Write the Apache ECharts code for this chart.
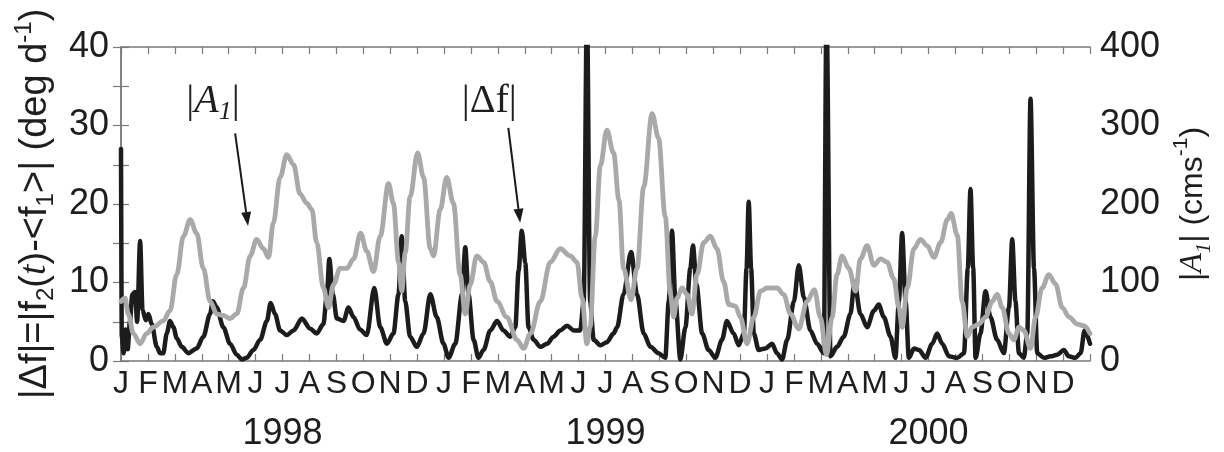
<!DOCTYPE html>
<html>
<head>
<meta charset="utf-8">
<script src="https://cdn.jsdelivr.net/npm/echarts@6/dist/echarts.min.js"></script>
<style>
html,body{margin:0;padding:0;background:#fff;}
#chart{width:1224px;height:452px;}
</style>
</head>
<body>
<div id="chart"></div>
<script>
// ---- Data (x = months since 1 Jan 1998) ----
const monthLetters = ['J','F','M','A','M','J','J','A','S','O','N','D'];
const yearLabels = ['1998','1999','2000'];

// |Δf| (deg d^-1), left axis
const dfMonth = [0,0.03,0.1,0.17,0.25,0.33,0.42,0.52,0.6,0.71,0.8,0.92,1.02,1.14,1.33,1.45,1.57,1.7,1.82,1.95,2.07,2.26,2.5,2.81,3.06,3.31,3.41,3.56,3.8,4.05,4.3,4.49,4.67,4.92,5.17,5.42,5.56,5.72,5.91,6.16,6.41,6.72,7.03,7.27,7.52,7.65,7.74,7.87,8.02,8.27,8.45,8.64,8.88,9.13,9.41,9.63,9.88,10.12,10.31,10.43,10.56,10.74,10.99,11.24,11.49,11.73,11.98,12.17,12.42,12.67,12.79,12.91,13.1,13.28,13.47,13.72,13.97,14.21,14.46,14.65,14.77,14.89,15.02,15.14,15.33,15.58,15.83,16.07,16.32,16.57,16.82,17.06,17.19,17.31,17.43,17.56,17.81,18.05,18.3,18.43,18.67,18.95,19.17,19.42,19.67,19.97,20.22,20.35,20.47,20.6,20.78,20.97,21.15,21.25,21.38,21.59,21.83,22.08,22.33,22.51,22.76,22.95,23.14,23.24,23.32,23.41,23.51,23.69,23.94,24.19,24.37,24.56,24.75,25.0,25.18,25.37,25.61,25.86,26.11,26.21,26.36,26.6,26.85,27.1,27.25,27.47,27.72,27.97,28.15,28.34,28.59,28.77,28.9,29.02,29.15,29.27,29.46,29.65,29.89,30.14,30.32,30.51,30.76,31.07,31.32,31.46,31.56,31.66,31.75,31.93,32.12,32.3,32.55,32.8,32.99,33.11,33.23,33.36,33.54,33.67,33.79,33.92,34.04,34.29,34.54,34.78,35.03,35.21,35.46,35.65,35.8,36.0];
const dfValue = [27,3,1,4,1.5,5,8.5,8.8,5,15.3,6.5,5.2,6.0,4.7,1.8,1.0,1.0,3.5,5.1,4.3,2.9,1.8,1.0,1.6,3.1,6.0,7.6,6.8,4.3,2.2,0.8,0.2,0.4,1.4,2.7,5.1,7.4,6.0,3.9,3.3,3.9,5.4,4.1,3.5,4.7,8.5,13.0,8.5,5.4,5.1,6.8,5.6,4.0,3.3,9.3,4.3,2.2,3.5,8.5,15.9,7.6,3.1,1.8,3.5,8.5,5.6,2.2,0.4,2.2,8.5,14.5,8.5,2.7,0.4,1.4,3.9,5.1,3.9,3.1,4.3,11.5,16.6,12.5,4.3,2.7,1.8,2.2,3.1,3.9,4.5,3.9,3.9,7.6,45,7.6,2.7,2.0,2.4,3.5,4.3,8.5,13.9,8.5,3.5,1.8,1.0,0.4,7.6,16.6,7.6,0.2,4.3,11.8,14.7,9.7,3.5,1.4,0.4,2.7,5.1,3.5,2.0,3.5,11.8,20.3,11.8,3.5,1.4,1.6,2.2,1.0,0.2,2.7,7.6,12.2,8.1,3.9,2.2,1.0,45,0.6,1.8,3.1,6.0,10.1,6.0,4.3,6.4,7.2,5.6,3.1,0.4,7.6,16.3,7.6,0.4,1.6,1.4,0.4,2.2,3.5,2.2,0.6,0.4,1.0,11.8,21.9,11.8,0.4,3.5,8.9,5.6,2.7,1.0,6.8,15.5,7.6,1.0,0.4,3.5,33.4,11.8,1.0,0.4,0.6,0.8,1.4,0.6,0.4,1.0,3.9,2.2];

// |A1| (cm s^-1), right axis
const a1Month = [0,0.15,0.27,0.46,0.71,0.95,1.2,1.57,1.82,2.07,2.32,2.57,2.81,3.06,3.31,3.56,3.8,4.05,4.3,4.55,4.8,5.04,5.29,5.48,5.66,5.91,6.16,6.41,6.65,6.9,7.09,7.27,7.52,7.71,7.89,8.14,8.39,8.64,8.9,9.13,9.38,9.63,9.94,10.12,10.31,10.43,10.56,10.74,11.02,11.24,11.49,11.61,11.86,12.1,12.35,12.6,12.79,12.97,13.22,13.47,13.72,13.97,14.33,14.71,14.96,15.21,15.58,15.95,16.32,16.69,16.94,17.13,17.31,17.43,17.62,17.81,18.05,18.3,18.5,18.67,18.95,19.17,19.42,19.73,19.97,20.22,20.41,20.53,20.66,20.84,21.03,21.21,21.4,21.65,21.9,22.14,22.39,22.58,22.83,23.01,23.26,23.51,23.76,24.0,24.37,24.62,24.87,25.18,25.49,25.76,25.98,26.21,26.42,26.6,26.79,27.04,27.29,27.47,27.72,27.97,28.22,28.46,28.71,28.9,29.02,29.21,29.46,29.7,29.95,30.2,30.45,30.7,30.84,31.07,31.25,31.44,31.62,31.87,32.12,32.37,32.55,32.74,32.99,33.17,33.36,33.54,33.79,33.98,34.22,34.47,34.72,34.97,35.22,35.53,35.77,36.0];
const a1Value = [76,80,60,35,22,35,43,51,64,110,159,180,163,118,76,60,58,54,60,93,134,155,143,132,176,234,263,250,213,201,193,151,93,68,97,118,118,130,163,140,114,159,226,201,126,89,138,209,265,234,143,134,193,234,201,110,60,97,134,126,101,76,56,27,16,35,76,126,143,134,126,80,22,43,159,249,294,265,205,118,78,118,222,315,284,184,85,56,80,93,85,60,110,151,159,143,101,72,70,56,22,56,89,93,93,85,60,41,76,91,56,8,56,110,134,118,89,130,147,122,130,126,105,68,43,93,143,155,147,132,151,180,188,160,76,31,43,47,56,76,85,68,35,27,43,39,16,56,93,110,98,68,56,47,45,35];

const FONT = 'Liberation Sans, Arial, Helvetica, sans-serif';
const SERIF = 'Liberation Serif, DejaVu Serif, serif';
const AXIS_COLOR = '#7a7a7a';
const TXT = '#1e1e1e';

const chart = echarts.init(document.getElementById('chart'), null, {renderer: 'canvas'});

const xCommon = {type: 'value', min: 0, max: 36, interval: 1};

const option = {
  animation: false,
  backgroundColor: '#fff',
  grid: {left: 121, right: 134, top: 47, bottom: 82, containLabel: false},
  xAxis: [
    Object.assign({}, xCommon, {
      position: 'bottom',
      axisLine: {show: true, lineStyle: {color: AXIS_COLOR, width: 1.5}},
      axisTick: {show: true, inside: true, length: 7, lineStyle: {color: AXIS_COLOR, width: 1.2}},
      splitLine: {show: false},
      axisLabel: {
        show: true, margin: 7, fontSize: 32, color: TXT, fontFamily: FONT,
        formatter: v => (v >= 0 && v < 36 && Number.isInteger(v)) ? monthLetters[v % 12] : ''
      }
    }),
    Object.assign({}, xCommon, {
      position: 'top',
      axisLine: {show: true, onZero: false, lineStyle: {color: AXIS_COLOR, width: 1.5}},
      axisTick: {show: true, inside: true, length: 7, lineStyle: {color: AXIS_COLOR, width: 1.2}},
      splitLine: {show: false},
      axisLabel: {show: false}
    }),
    {
      type: 'value', min: 0, max: 36, interval: 6, position: 'bottom',
      axisLine: {show: false}, axisTick: {show: false}, splitLine: {show: false},
      axisLabel: {
        show: true, margin: 55, fontSize: 36, color: TXT, fontFamily: FONT,
        formatter: v => { const k = (v - 6) / 12; return (Number.isInteger(k) && k >= 0 && k < 3) ? yearLabels[k] : ''; }
      }
    }
  ],
  yAxis: [
    {
      type: 'value', min: 0, max: 40, interval: 5, position: 'left',
      axisLine: {show: true, lineStyle: {color: AXIS_COLOR, width: 1.5}},
      axisTick: {show: true, inside: true, length: 8, lineStyle: {color: AXIS_COLOR, width: 1.2}},
      splitLine: {show: false},
      axisLabel: {margin: 12, fontSize: 36, color: TXT, fontFamily: FONT,
        formatter: v => (v % 10 === 0) ? String(v) : ''},
      name: '{n||Δf|=|f}{sub|2}{n|(}{it|t}{n|)-<f}{sub|1}{n|>| (deg d}{sup|-1}{n|)}',
      nameLocation: 'middle', nameRotate: 90, nameGap: 62,
      nameTextStyle: {
        color: TXT, fontFamily: FONT, fontSize: 38,
        rich: {
          n: {fontSize: 38, fontFamily: FONT, color: TXT, lineHeight: 46, verticalAlign: 'middle'},
          it: {fontSize: 38, fontFamily: SERIF, fontStyle: 'italic', color: TXT, lineHeight: 46, verticalAlign: 'middle'},
          sub: {fontSize: 24, fontFamily: FONT, color: TXT, lineHeight: 21, verticalAlign: 'bottom'},
          sup: {fontSize: 24, fontFamily: FONT, color: TXT, lineHeight: 21, verticalAlign: 'top'}
        }
      }
    },
    {
      type: 'value', min: 0, max: 400, interval: 50, position: 'right',
      axisLine: {show: true, lineStyle: {color: AXIS_COLOR, width: 1.5}},
      axisTick: {show: true, inside: true, length: 8, lineStyle: {color: AXIS_COLOR, width: 1.2}},
      splitLine: {show: false},
      axisLabel: {margin: 10, fontSize: 36, color: TXT, fontFamily: FONT,
        formatter: v => (v % 100 === 0) ? String(v) : ''},
      name: '{n||}{it|A}{isub|1}{n|| (cms}{sup|-1}{n|)}',
      nameLocation: 'middle', nameRotate: 90, nameGap: 78,
      nameTextStyle: {
        color: TXT, fontFamily: FONT, fontSize: 32,
        rich: {
          n: {fontSize: 32, fontFamily: FONT, color: TXT, lineHeight: 44, verticalAlign: 'middle'},
          it: {fontSize: 32, fontFamily: SERIF, fontStyle: 'italic', color: TXT, lineHeight: 44, verticalAlign: 'middle'},
          isub: {fontSize: 21, fontFamily: SERIF, fontStyle: 'italic', color: TXT, lineHeight: 20, verticalAlign: 'bottom'},
          sup: {fontSize: 21, fontFamily: FONT, color: TXT, lineHeight: 20, verticalAlign: 'top'}
        }
      }
    }
  ],
  series: [
    {
      name: '|Δf|', type: 'line', xAxisIndex: 0, yAxisIndex: 0,
      data: dfMonth.map((m, i) => [m, dfValue[i]]),
      showSymbol: false, smooth: 0.3, smoothMonotone: 'x', clip: true,
      lineStyle: {color: '#1c1c1c', width: 4.5, join: 'round', cap: 'round'},
      z: 2
    },
    {
      name: '|A1|', type: 'line', xAxisIndex: 0, yAxisIndex: 1,
      data: a1Month.map((m, i) => [m, a1Value[i]]),
      showSymbol: false, smooth: 0.35, smoothMonotone: 'x', clip: true,
      lineStyle: {color: '#a9a9a9', width: 4.8, join: 'round', cap: 'round'},
      z: 3
    }
  ]
};
chart.setOption(option);

// ---- Annotations placed in data coordinates ----
const annA1 = {text: [3.42, 33.0], from: [4.24, 29.0], to: [4.72, 17.2]};
const annDf = {text: [13.68, 33.0], from: [14.39, 29.7], to: [14.83, 17.6]};

function px(p) { return chart.convertToPixel({xAxisIndex: 0, yAxisIndex: 0}, p); }
function arrow(a) {
  const s = px(a.from), e = px(a.to);
  const dx = e[0] - s[0], dy = e[1] - s[1];
  const len = Math.hypot(dx, dy), ux = dx / len, uy = dy / len;
  const hl = 14, hw = 5;
  const bx = e[0] - ux * hl, by = e[1] - uy * hl;
  return [
    {type: 'line', shape: {x1: s[0], y1: s[1], x2: bx, y2: by}, style: {stroke: '#1a1a1a', lineWidth: 2}, z: 10},
    {type: 'polygon', shape: {points: [[e[0], e[1]], [bx - uy * hw, by + ux * hw], [bx + uy * hw, by - ux * hw]]}, style: {fill: '#1a1a1a'}, z: 10}
  ];
}
const tA = px(annA1.text), tD = px(annDf.text);
chart.setOption({
  graphic: [
    {type: 'text', x: tA[0], y: tA[1], z: 10,
      style: {text: '{n||}{it|A}{sub|1}{n||}', align: 'center', verticalAlign: 'middle',
        rich: {
          n: {fontSize: 40, fontFamily: SERIF, fill: TXT, lineHeight: 46, verticalAlign: 'middle'},
          it: {fontSize: 40, fontFamily: SERIF, fontStyle: 'italic', fill: TXT, lineHeight: 46, verticalAlign: 'middle'},
          sub: {fontSize: 26, fontFamily: SERIF, fontStyle: 'italic', fill: TXT, lineHeight: 26, verticalAlign: 'bottom'}
        }}},
    {type: 'text', x: tD[0], y: tD[1], z: 10,
      style: {text: '|Δf|', align: 'center', verticalAlign: 'middle',
        font: '40px ' + SERIF, fill: TXT}},
    ...arrow(annA1), ...arrow(annDf)
  ]
});
</script>
</body>
</html>
